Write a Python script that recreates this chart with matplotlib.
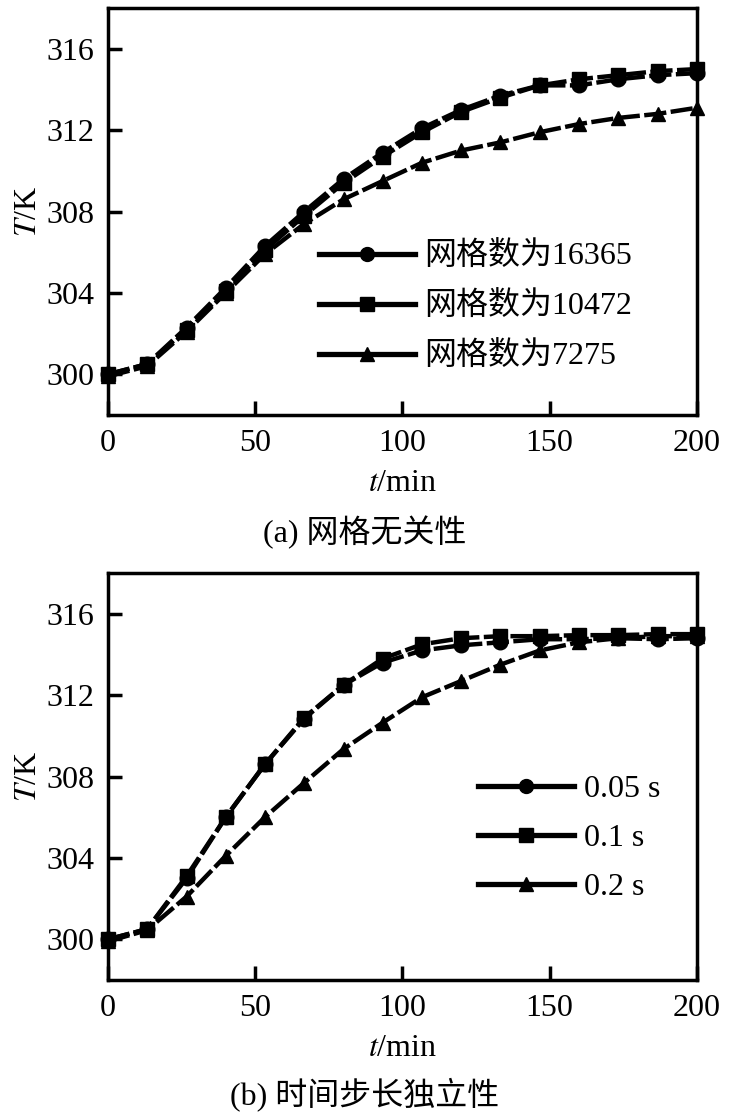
import numpy as np
import matplotlib
matplotlib.use("Agg")
import matplotlib.pyplot as plt
from matplotlib.lines import Line2D

plt.rcParams['font.family'] = ['Liberation Serif', 'Noto Sans CJK SC']
plt.rcParams['mathtext.fontset'] = 'stix'

# time axis (min)
t = [0, 13.3, 26.7, 40, 53.3, 66.7, 80, 93.3, 106.7, 120, 133.3, 146.7, 160, 173.3, 186.7, 200]

# (a) mesh independence
mesh_labels = ["网格数为16365", "网格数为10472", "网格数为7275"]
T_16365 = [300.0, 300.5, 302.3, 304.25, 306.3, 308.0, 309.6, 310.9, 312.1, 313.0, 313.7, 314.2, 314.2, 314.5, 314.7, 314.8]
T_10472 = [300.0, 300.5, 302.2, 304.1, 306.1, 307.8, 309.4, 310.7, 311.9, 312.9, 313.6, 314.2, 314.5, 314.7, 314.9, 315.0]
T_7275 = [299.9, 300.4, 302.1, 304.0, 305.9, 307.4, 308.6, 309.5, 310.4, 311.0, 311.4, 311.9, 312.3, 312.6, 312.8, 313.1]

# (b) time step independence
step_labels = ["0.05 s", "0.1 s", "0.2 s"]
T_005 = [300.0, 300.5, 303.0, 306.0, 308.6, 310.85, 312.5, 313.6, 314.2, 314.45, 314.6, 314.75, 314.75, 314.8, 314.75, 314.8]
T_01 = [300.0, 300.5, 303.1, 306.0, 308.6, 310.9, 312.5, 313.8, 314.5, 314.8, 314.9, 314.9, 314.95, 314.95, 315.0, 315.0]
T_02 = [299.9, 300.45, 302.1, 304.1, 306.0, 307.7, 309.35, 310.65, 311.9, 312.7, 313.5, 314.2, 314.6, 314.8, 314.9, 314.9]

xticks = [0, 50, 100, 150, 200]
yticks = [300, 304, 308, 312, 316]
markers = ["o", "s", "^"]

fig = plt.figure(figsize=(7.29, 11.18), dpi=100)
ax1 = fig.add_axes([0.148, 0.6288, 0.808, 0.364])
ax2 = fig.add_axes([0.148, 0.1234, 0.808, 0.364])


def style_axes(ax):
    ax.set_xlim(0, 200)
    ax.set_ylim(298, 318)
    ax.set_xticks(xticks)
    ax.set_yticks(yticks)
    ax.tick_params(direction="in", length=10, width=2.5, labelsize=23, pad=10,
                   top=False, right=False)
    for s in ax.spines.values():
        s.set_linewidth(2.5)
    ax.set_xlabel("$t$/min", fontsize=23, labelpad=8)
    ax.set_ylabel("$T$/K", fontsize=23, labelpad=2)


def draw(ax, series, labels, anchor):
    for y, m in zip(series, markers):
        ax.plot(t, y, color="black", lw=3.2, ls=(0, (5, 1)), marker=m, ms=10.5,
                clip_on=False, zorder=3)
    handles = [Line2D([], [], color="black", lw=3.8, marker=m, ms=10) for m in markers]
    ax.legend(handles, labels, loc="upper left", bbox_to_anchor=anchor, frameon=False,
              fontsize=23, handlelength=3.0, labelspacing=0.62, handletextpad=0.3)


draw(ax1, [T_16365, T_10472, T_7275], mesh_labels, (0.31, 0.495))
draw(ax2, [T_005, T_01, T_02], step_labels, (0.58, 0.575))
style_axes(ax1)
style_axes(ax2)

fig.text(0.5, 1 - 532 / 1118, "(a) 网格无关性", ha="center", va="center", fontsize=23)
fig.text(0.5, 1 - 1095 / 1118, "(b) 时间步长独立性", ha="center", va="center", fontsize=23)

fig.savefig("out.png", dpi=100)
